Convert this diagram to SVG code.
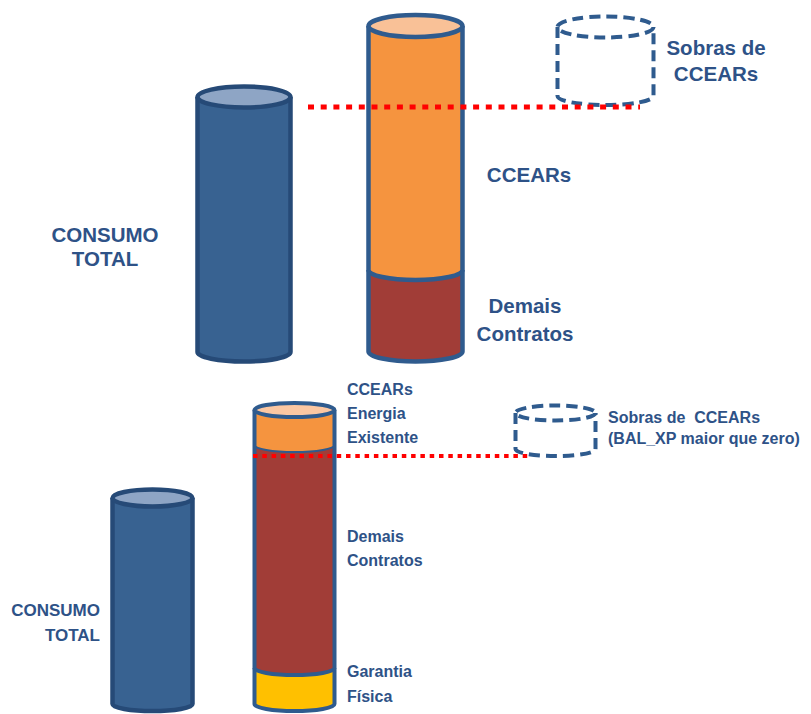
<svg xmlns="http://www.w3.org/2000/svg" width="811" height="714" viewBox="0 0 811 714">
<style>
.lbl{font-family:"Liberation Sans",Arial,sans-serif;font-weight:bold;fill:#2e5287}
.big{font-size:20.5px}
.sm{font-size:16px}
.edge{fill:none;stroke:#2f5b8e;stroke-width:4.5;stroke-linejoin:round}
.edgeB{fill:none;stroke:#264a77;stroke-width:4.5;stroke-linejoin:round}
.dash{fill:none;stroke:#2f5b8e;stroke-width:4;stroke-dasharray:11 6}
.blue{fill:#386291}
.orange{fill:#f5943f}
.brown{fill:#a13d37}
.yellow{fill:#ffc000}
.dotsA{fill:none;stroke:#ff0000;stroke-width:5;stroke-dasharray:6 6.7}
.dotsB{fill:none;stroke:#ff0000;stroke-width:4;stroke-dasharray:4.5 4.8}
</style>
<rect width="811" height="714" fill="#ffffff"/>

<g id="top-consumo">
<path class="blue" d="M197.5,97 V352 A46.5,9.5 0 0 0 290.5,352 V97 Z"/>
<path class="edgeB" d="M197.5,97 V352 A46.5,9.5 0 0 0 290.5,352 V97"/>
<ellipse class="edgeB" cx="244" cy="97" rx="46.5" ry="10.5" style="fill:#8ea5c5"/>
</g>

<g id="top-contratos">
<path class="orange" d="M368.5,26 V351.5 A47,10 0 0 0 462.5,351.5 V26 Z"/>
<path class="brown" d="M368.5,270 A47,10 0 0 0 462.5,270 V351.5 A47,10 0 0 1 368.5,351.5 Z"/>
<path class="edge" d="M368.5,270 A47,10 0 0 0 462.5,270"/>
<path class="edge" d="M368.5,26 V351.5 A47,10 0 0 0 462.5,351.5 V26"/>
<ellipse class="edge" cx="415.5" cy="26" rx="47" ry="11" style="fill:#f9c197"/>
</g>

<g id="top-sobras">
<path class="dash" d="M557.5,27 V96 A48,9 0 0 0 653.5,96 V27"/>
<ellipse class="dash" cx="605.5" cy="27" rx="48" ry="10.5"/>
</g>

<g id="bottom-consumo">
<path class="blue" d="M112.5,498 V704 A40,7 0 0 0 192.5,704 V498 Z"/>
<path class="edgeB" d="M112.5,498 V704 A40,7 0 0 0 192.5,704 V498"/>
<ellipse class="edgeB" cx="152.5" cy="498" rx="40" ry="8.5" style="fill:#8ea5c5"/>
</g>

<g id="bottom-contratos">
<path class="orange" d="M254.5,410 V704 A40,7 0 0 0 334.5,704 V410 Z"/>
<path class="brown" d="M254.5,445 A40,7 0 0 0 334.5,445 V704 A40,7 0 0 1 254.5,704 Z"/>
<path class="yellow" d="M254.5,668 A40,7 0 0 0 334.5,668 V704 A40,7 0 0 1 254.5,704 Z"/>
<path class="edge" d="M254.5,445 A40,7 0 0 0 334.5,445" style="stroke-width:2"/>
<path class="edge" d="M254.5,668 A40,7 0 0 0 334.5,668" style="stroke-width:4"/>
<path class="edge" d="M254.5,410 V704 A40,7 0 0 0 334.5,704 V410" style="stroke-width:4"/>
<ellipse class="edge" cx="294.5" cy="410" rx="40" ry="7" style="fill:#fbc7a2;stroke-width:4"/>
</g>

<g id="bottom-sobras">
<path class="dash" d="M515.5,413 V449 A40,7 0 0 0 595.5,449 V413"/>
<ellipse class="dash" cx="555.5" cy="413" rx="40" ry="7.5"/>
</g>

<g id="connectors">
<path class="dotsA" d="M308,107 H640"/>
<path class="dotsB" d="M253,456 H530"/>
</g>

<g id="labels">
<text class="lbl big" x="105" y="242" text-anchor="middle">CONSUMO</text>
<text class="lbl big" x="105" y="266" text-anchor="middle">TOTAL</text>
<text class="lbl big" x="529" y="182" text-anchor="middle">CCEARs</text>
<text class="lbl big" x="525" y="313" text-anchor="middle">Demais</text>
<text class="lbl big" x="525" y="341" text-anchor="middle">Contratos</text>
<text class="lbl big" x="716" y="55" text-anchor="middle">Sobras de</text>
<text class="lbl big" x="716" y="81" text-anchor="middle">CCEARs</text>
<text class="lbl sm" x="100" y="616" text-anchor="end" style="font-size:17px">CONSUMO</text>
<text class="lbl sm" x="100" y="641" text-anchor="end" style="font-size:17px">TOTAL</text>
<text class="lbl sm" x="347" y="395">CCEARs</text>
<text class="lbl sm" x="347" y="419">Energia</text>
<text class="lbl sm" x="347" y="443">Existente</text>
<text class="lbl sm" x="347" y="542">Demais</text>
<text class="lbl sm" x="347" y="566">Contratos</text>
<text class="lbl sm" x="347" y="677">Garantia</text>
<text class="lbl sm" x="347" y="702">Física</text>
<text class="lbl sm" x="608" y="423" xml:space="preserve">Sobras de  CCEARs</text>
<text class="lbl sm" x="608" y="444">(BAL_XP maior que zero)</text>
</g>
</svg>
